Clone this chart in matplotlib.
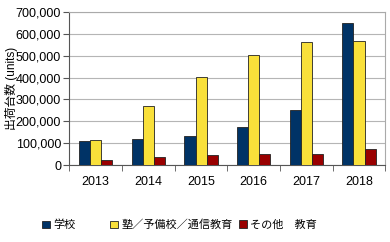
import matplotlib.pyplot as plt
import numpy as np

plt.rcParams['font.family'] = ['Liberation Sans', 'Noto Sans CJK JP', 'DejaVu Sans']

years = ['2013', '2014', '2015', '2016', '2017', '2018']
school = [108000, 118000, 133000, 175000, 254000, 651000]
juku = [113000, 272000, 402000, 502000, 563000, 566000]
other = [25000, 38000, 47000, 52000, 52000, 72000]
labels = ['学校', '塾／予備校／通信教育', 'その他　教育']
colors = ['#003366', '#F9E03A', '#990000']

fig = plt.figure(figsize=(3.9, 2.42), dpi=100)
ax = fig.add_axes([0.178, 0.318, 0.81, 0.632])

x = np.arange(len(years))
w = 0.21
handles = []
for i, (vals, lab, c) in enumerate(zip([school, juku, other], labels, colors)):
    b = ax.bar(x + (i - 1) * w, vals, w, color=c, edgecolor='#222222', linewidth=0.6, label=lab, zorder=3)
    handles.append(b)

ax.set_xlim(-0.5, len(years) - 0.5)
ax.set_ylim(0, 700000)
ax.set_yticks(range(0, 700001, 100000))
ax.set_yticklabels(['0'] + [f'{v:,}' for v in range(100000, 700001, 100000)], fontsize=9)
ax.set_xticks(x)
ax.set_xticklabels(years, fontsize=9)
ax.set_xticks(np.arange(-0.5, len(years)), minor=True)
ax.tick_params(axis='x', which='major', length=0, pad=8)
ax.tick_params(axis='x', which='minor', length=4, color='#555555')
ax.tick_params(axis='y', length=4, color='#555555', pad=2)
ax.grid(axis='y', color='#b5b5b5', linewidth=0.8, zorder=0)
for s in ['top', 'right']:
    ax.spines[s].set_color('#aaaaaa')
for s in ['left', 'bottom']:
    ax.spines[s].set_color('#555555')
ax.set_ylabel('出荷台数 (units)', fontsize=8.5)
ax.yaxis.set_label_coords(-0.163, 0.5)

# legend entries placed individually, like the original
for h, lab, xpos in zip(handles, labels, [0.108, 0.283, 0.613]):
    fig.legend([h], [lab], loc='center left', bbox_to_anchor=(xpos, 0.07), frameon=False,
               fontsize=8, handlelength=0.7, handleheight=0.7, handletextpad=0.3,
               borderpad=0, borderaxespad=0)

fig.savefig('out.png', dpi=100)
